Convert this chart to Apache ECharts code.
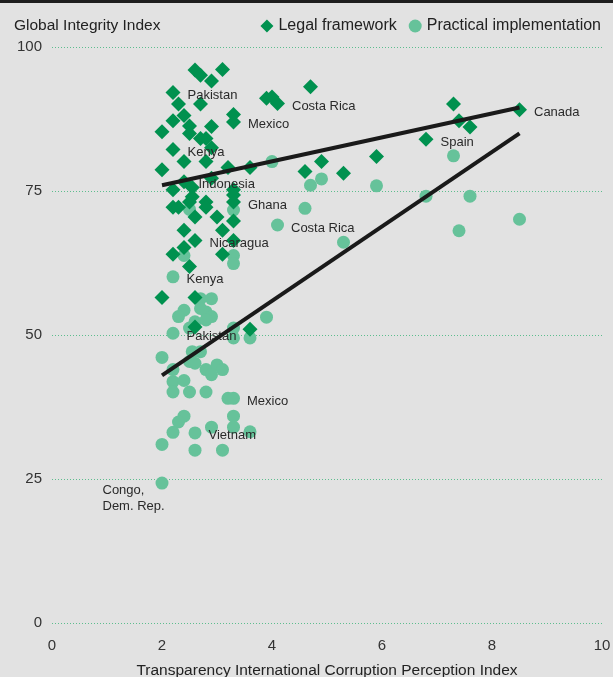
<!DOCTYPE html>
<html>
<head>
<meta charset="utf-8">
<script src="https://cdn.jsdelivr.net/npm/echarts@6/dist/echarts.min.js"></script>
<style>
html,body{margin:0;padding:0;background:#e2e2e2;}
#c{width:613px;height:677px;}
</style>
</head>
<body>
<div id="c"></div>
<script>
// Legal framework (diamonds): [CPI, GII, optional country label]
var legal = [
  [2.6,96.0],[2.7,95.1],[3.1,96.1],[2.9,94.1],[2.2,92.1,'Pakistan'],[2.3,90.1],[2.7,90.1],
  [2.4,88.1],[2.2,87.2],[2.0,85.3],[2.5,86.3],[2.5,85.0],[2.7,84.1],[2.8,84.1],[2.9,86.2],
  [3.3,88.3],[3.3,87.0,'Mexico'],[2.2,82.2,'Kenya'],[2.9,82.5],[3.9,91.1],[4.0,91.3],
  [4.1,90.2,'Costa Rica'],[4.7,93.1],[7.3,90.1],[8.5,89.1,'Canada'],[7.4,87.2],[7.6,86.1],
  [6.8,84.0,'Spain'],[5.9,81.0],[4.9,80.1],[4.6,78.4],[5.3,78.1],[3.6,79.1],[2.0,78.7],
  [2.4,80.1],[2.8,80.1],[3.2,79.1],[2.4,76.6,'Indonesia'],[2.55,75.6],[2.55,74.0],[2.2,75.2],
  [2.5,73.1],[2.9,77.2],[3.3,75.2],[3.3,74.3],[3.3,73.1,'Ghana'],[2.8,73.1],[2.2,72.2],
  [2.3,72.2],[2.6,70.5],[2.8,72.2],[3.0,70.5],[3.3,69.8],[2.4,68.2],[3.1,68.2],
  [2.6,66.4,'Nicaragua'],[3.3,66.4],[2.4,65.2],[2.2,64.0],[3.1,64.0],[2.5,61.9],[2.0,56.5],
  [2.6,56.5],[2.6,51.4],[3.6,51.0]
];
// Practical implementation (circles)
var practical = [
  [4.0,80.1],[7.3,81.1],[4.9,77.1],[4.7,76.0],[5.9,75.9],[6.8,74.1],[7.6,74.1],[4.6,72.0],
  [4.1,69.1,'Costa Rica'],[8.5,70.1],[7.4,68.1],[5.3,66.1],
  [2.5,71.8],[3.3,71.7],[2.4,63.8],[3.3,63.8],[3.3,62.4],[2.2,60.1,'Kenya'],[3.9,53.1],
  [2.7,56.3],[2.9,56.3],[2.7,54.6],[2.8,54.0],[2.9,53.2],[2.4,54.3],[2.3,53.2],[2.6,52.3],
  [2.8,52.6],[2.2,50.3,'Pakistan'],[2.5,51.2],[3.3,51.2],[3.3,49.5],[3.6,49.5],
  [2.0,46.1],[2.55,47.1],[2.7,47.1],[2.5,45.4],[2.6,45.1],[2.2,44.0],[2.8,44.0],[3.0,44.8],
  [3.1,44.0],[2.9,43.1],[2.2,41.9],[2.4,42.1],[2.2,40.1],[2.5,40.1],[2.8,40.1],[3.2,39.0],
  [3.3,39.0,'Mexico'],[2.4,35.9],[2.3,34.9],[3.3,35.9],[2.2,33.1],[2.6,33.0,'Vietnam'],
  [2.9,34.0],[3.3,34.0],[3.6,33.2],[2.0,31.0],[2.6,30.0],[3.1,30.0],[2.0,24.3,'Congo,\nDem. Rep.']
];
// Trend lines
var trendLegal = [[2.0,76.0],[8.5,89.5]];
var trendPractical = [[2.0,43.0],[8.5,85.0]];
// Axis ticks
var xTicks = {min:0, max:10, step:2};
var yTicks = {min:0, max:100, step:25};

var FONT = '"Liberation Sans", Arial, sans-serif';
var DARK = '#00914f', LIGHT = '#66c29a';

function toData(arr){
  return arr.map(function(p){
    var item = {value:[p[0],p[1]], name: p[2] || ''};
    if (p[2] && p[2].indexOf('Congo') === 0) {
      item.label = {position:[-53,3], align:'left', verticalAlign:'top', lineHeight:16};
    }
    return item;
  });
}
var labelCfg = {
  show:true, position:'right', distance:7, offset:[0,3],
  color:'#2a2a2a', fontSize:13, fontFamily:FONT,
  formatter:function(p){return p.name;}
};

var chart = echarts.init(document.getElementById('c'));
chart.setOption({
  backgroundColor:'#e2e2e2',
  animation:false,
  textStyle:{fontFamily:FONT},
  title:{text:'Global Integrity Index', left:9, top:13,
    textStyle:{fontSize:15.5, fontWeight:'normal', color:'#222', fontFamily:FONT}},
  graphic:[{type:'rect', left:0, top:0, shape:{width:613, height:3}, style:{fill:'#1e1e1e'}}],
  legend:{right:7, top:13, itemGap:12, itemWidth:13, itemHeight:13,
    textStyle:{fontSize:16, color:'#222', fontFamily:FONT},
    data:[{name:'Legal framework', icon:'diamond'},{name:'Practical implementation', icon:'circle'}]},
  grid:{left:52, right:11, top:47, bottom:54, containLabel:false, outerBoundsMode:'none'},
  xAxis:{type:'value', min:xTicks.min, max:xTicks.max, interval:xTicks.step,
    name:'Transparency International Corruption Perception Index', nameLocation:'middle', nameGap:40,
    nameTextStyle:{fontSize:15.5, color:'#222', fontFamily:FONT},
    axisLine:{show:false}, axisTick:{show:false}, splitLine:{show:false},
    axisLabel:{fontSize:15, color:'#333', margin:15, fontFamily:FONT}},
  yAxis:{type:'value', min:yTicks.min, max:yTicks.max, interval:yTicks.step,
    axisLine:{show:false}, axisTick:{show:false},
    splitLine:{lineStyle:{type:[1,2], color:'#5dbd8e', width:1}},
    axisLabel:{fontSize:15, color:'#333', margin:10, fontFamily:FONT}},
  series:[
    {name:'Practical implementation', type:'scatter', symbol:'circle', symbolSize:13, z:2,
     itemStyle:{color:LIGHT, opacity:1}, label:labelCfg, data:toData(practical)},
    {name:'Legal framework', type:'scatter', symbol:'diamond', symbolSize:15, z:3,
     itemStyle:{color:DARK, opacity:1}, label:labelCfg, data:toData(legal)},
    {name:'trend1', type:'line', data:trendLegal, symbol:'none', z:4,
     lineStyle:{color:'#1a1a1a', width:4}, silent:true},
    {name:'trend2', type:'line', data:trendPractical, symbol:'none', z:4,
     lineStyle:{color:'#1a1a1a', width:4}, silent:true}
  ]
});
</script>
</body>
</html>
